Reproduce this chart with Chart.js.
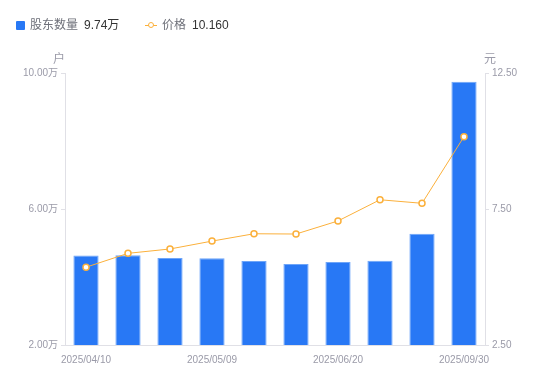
<!DOCTYPE html>
<html>
<head>
<meta charset="utf-8">
<script src="https://cdn.jsdelivr.net/npm/chart.js@4"></script>
<style>
html,body{margin:0;padding:0;background:#fff;}
#wrap{position:relative;width:550px;height:381px;font-family:"Liberation Sans","Noto Sans CJK SC",sans-serif;}
canvas{position:absolute;left:0;top:0;}
.lg{position:absolute;top:17px;font-size:12px;color:#6e7079;white-space:nowrap;line-height:16px;}
.lg b{font-weight:normal;color:#333;margin-left:6px;}
.unit{position:absolute;top:49px;font-size:12px;color:#9a9aa8;}
</style>
</head>
<body>
<div id="wrap">
<canvas id="c" width="550" height="381"></canvas>
<div class="lg" style="left:16px;"><span style="display:inline-block;width:9px;height:9px;background:#2878f5;border-radius:1px;margin-right:5px;vertical-align:-1px;"></span>股东数量<b>9.74万</b></div>
<div class="lg" style="left:145px;"><span style="display:inline-block;position:relative;width:12px;height:9px;margin-right:5px;vertical-align:-1px;"><span style="position:absolute;left:0;top:4px;width:12px;height:1px;background:#fbb03b;"></span><span style="position:absolute;left:3px;top:1px;width:4px;height:4px;border:1.5px solid #fbb03b;border-radius:50%;background:#fff;"></span></span>价格<b>10.160</b></div>
<div class="unit" style="left:53px;">户</div>
<div class="unit" style="left:484px;">元</div>
</div>
<script>
const categories = ["2025/04/10","2025/04/18","2025/04/30","2025/05/09","2025/05/20","2025/05/30","2025/06/20","2025/07/31","2025/08/29","2025/09/30"];
const holders = [4.63, 4.64, 4.56, 4.55, 4.47, 4.38, 4.44, 4.48, 5.27, 9.74]; // 万户
const price = [5.36, 5.87, 6.03, 6.32, 6.59, 6.58, 7.06, 7.84, 7.71, 10.16];
const leftTicks = [2, 6, 10];
const rightTicks = [2.5, 7.5, 12.5];

const tickColor = '#9a9aa8';
const lineCol = '#e0e0e6';
const fontFam = '"Liberation Sans","Noto Sans CJK SC",sans-serif';

new Chart(document.getElementById('c'), {
  data: {
    labels: categories,
    datasets: [
      {
        type: 'line', label: '价格', data: price, yAxisID: 'y1',
        borderColor: '#fbb03b', borderWidth: 1, backgroundColor: '#fff',
        pointRadius: 3, pointBorderWidth: 1.5, pointBackgroundColor: '#fff', pointBorderColor: '#fbb03b',
        tension: 0, order: 0
      },
      {
        type: 'bar', label: '股东数量', data: holders, yAxisID: 'y',
        backgroundColor: '#2878f5', borderColor: '#6ea5f8', borderWidth: {left:1,right:1,top:1,bottom:0},
        barPercentage: 0.6, categoryPercentage: 1.0, order: 1
      }
    ]
  },
  options: {
    responsive: false, animation: false,
    layout: { padding: { top: 73, left: 0, right: 0, bottom: 0 } },
    plugins: { legend: { display: false }, tooltip: { enabled: false } },
    scales: {
      x: {
        grid: { display: false },
        border: { display: true, color: lineCol },
        ticks: {
          autoSkip: false, maxRotation: 0, color: tickColor, padding: 1,
          font: { size: 10, family: fontFam },
          callback: function(v, i) { return i % 3 === 0 ? categories[i] : ''; }
        },
        afterFit: function(s) { s.height = 36; }
      },
      y: {
        position: 'left', min: 2, max: 10,
        afterBuildTicks: function(s) { s.ticks = leftTicks.map(v => ({ value: v })); },
        grid: { drawOnChartArea: false, drawTicks: true, tickLength: 4, color: lineCol },
        border: { display: true, color: lineCol },
        ticks: { color: tickColor, padding: 3, font: { size: 10, family: fontFam },
          callback: v => v.toFixed(2) + '万' },
        afterFit: function(s) { s.width = 65; }
      },
      y1: {
        position: 'right', min: 2.5, max: 12.5,
        afterBuildTicks: function(s) { s.ticks = rightTicks.map(v => ({ value: v })); },
        grid: { drawOnChartArea: false, drawTicks: true, tickLength: 4, color: lineCol },
        border: { display: true, color: lineCol },
        ticks: { color: tickColor, padding: 3, font: { size: 10, family: fontFam },
          callback: v => v.toFixed(2) },
        afterFit: function(s) { s.width = 65; }
      }
    }
  }
});
</script>
</body>
</html>
